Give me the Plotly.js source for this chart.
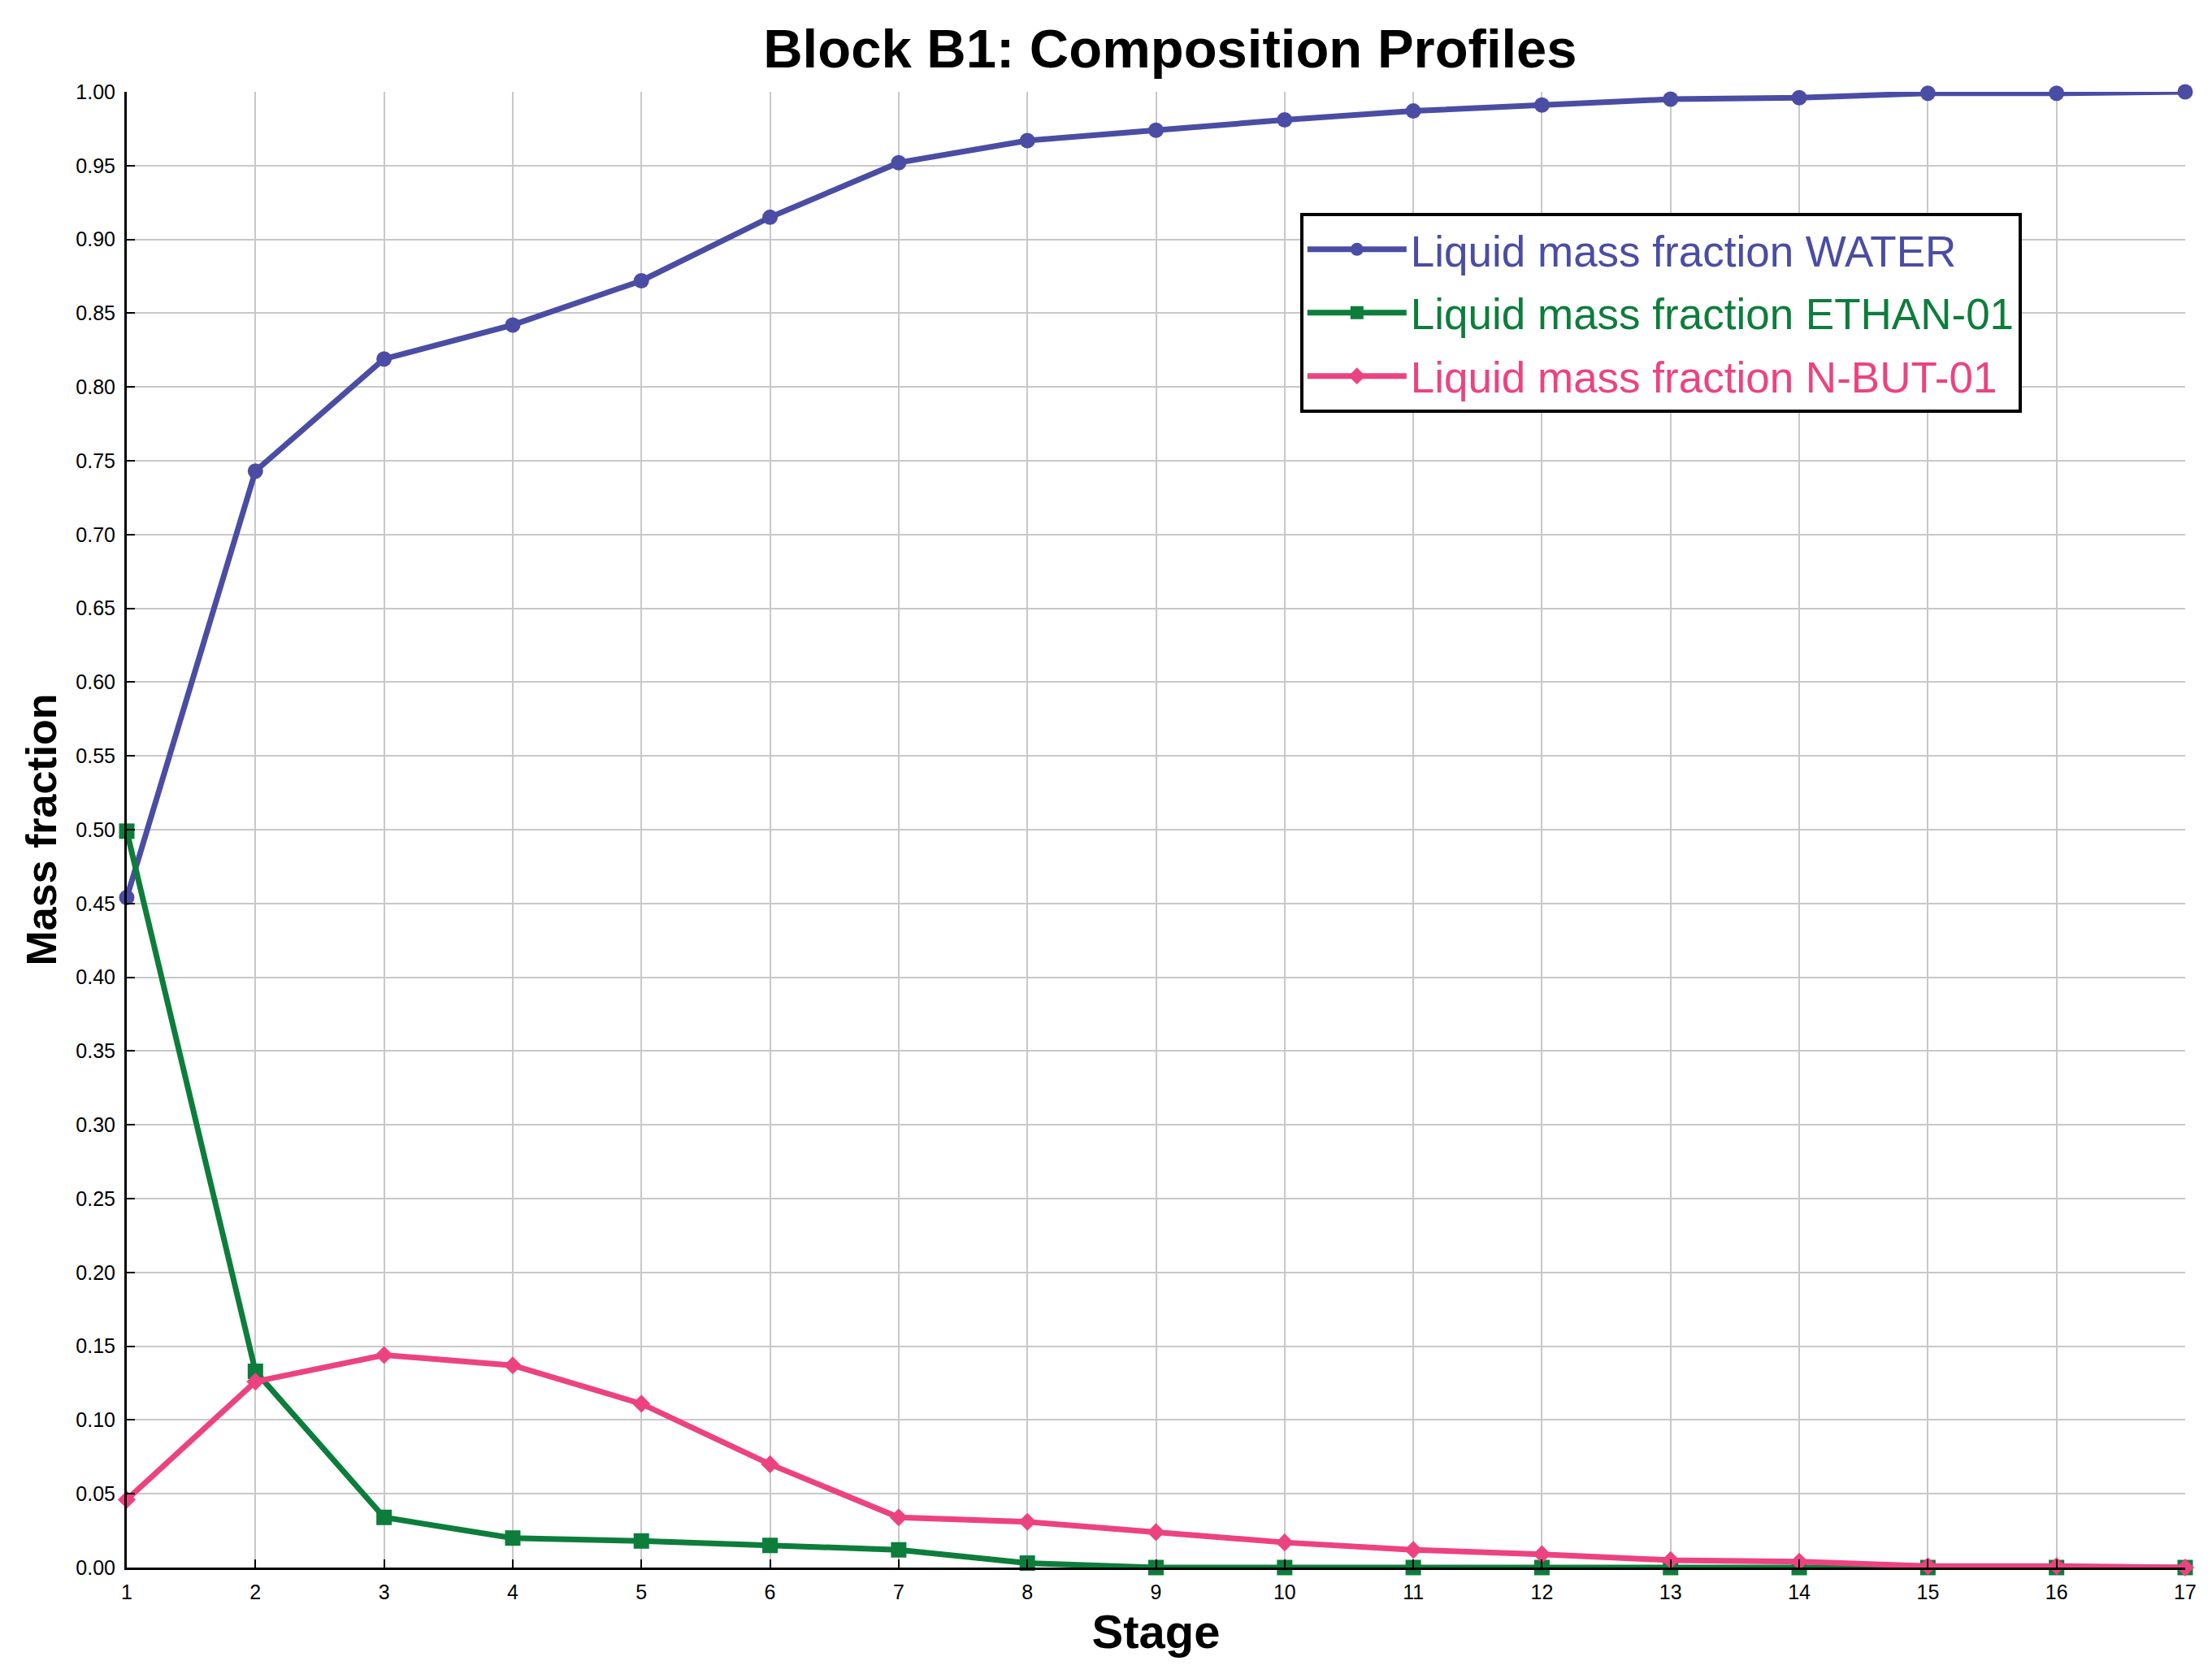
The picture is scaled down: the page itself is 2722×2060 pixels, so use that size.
<!DOCTYPE html>
<html>
<head>
<meta charset="utf-8">
<script src="https://cdn.plot.ly/plotly-3.0.1.min.js"></script>
<style>html,body{margin:0;padding:0;background:#fff;}#chart{width:2722px;height:2060px;}</style>
</head>
<body>
<div id="chart"></div>
<script>
const stages = [1,2,3,4,5,6,7,8,9,10,11,12,13,14,15,16,17];
const water  = [0.454,0.743,0.819,0.842,0.872,0.915,0.952,0.967,0.974,0.981,0.987,0.991,0.995,0.996,0.999,0.999,1.000];
const ethan  = [0.499,0.133,0.034,0.020,0.018,0.015,0.012,0.003,0.000,0.000,0.000,0.000,0.000,0.000,0.000,0.000,0.000];
const nbut   = [0.046,0.126,0.144,0.137,0.111,0.070,0.034,0.031,0.024,0.017,0.012,0.009,0.005,0.004,0.001,0.001,0.000];
const seriesNames = ['Liquid mass fraction WATER','Liquid mass fraction ETHAN-01','Liquid mass fraction N-BUT-01'];
const colors = ['#4a4da3','#0d7d3b','#ec4380'];
const symbols = ['circle','square','diamond'];
const sizes = [19,19,17];
const yTickVals = [0,0.05,0.1,0.15,0.2,0.25,0.3,0.35,0.4,0.45,0.5,0.55,0.6,0.65,0.7,0.75,0.8,0.85,0.9,0.95,1.0];

const ys = [water, ethan, nbut];
const traces = ys.map((y,i)=>({
  x: stages, y: y, type:'scatter', mode:'lines+markers',
  name: '<span style="color:'+colors[i]+'">'+seriesNames[i]+'</span>',
  legendgroup: 'g'+i,
  line:{color:colors[i], width:7},
  marker:{color:colors[i], symbol:symbols[i], size:sizes[i]},
  cliponaxis:false
}));

const layout = {
  width:2722, height:2060,
  paper_bgcolor:'#fff', plot_bgcolor:'#fff',
  margin:{l:156, r:33, t:113, b:131},
  font:{family:'Liberation Sans, Arial, sans-serif', color:'#000'},
  title:{text:'<b>Block B1: Composition Profiles</b>', x:0.529, xanchor:'center', y:0.971, yanchor:'middle', yref:'container',
    font:{family:'Liberation Sans, Arial, sans-serif', size:67, color:'#000'}},
  xaxis:{range:[1,17], tickvals:stages, ticks:'inside', ticklen:10, tickwidth:2, tickcolor:'#000',
    showline:true, linecolor:'#000', linewidth:3, showgrid:true, gridcolor:'#c8c8c8', gridwidth:2, zeroline:false,
    tickfont:{size:25, color:'#000'}, ticklabelstandoff:6,
    title:{text:'<b>Stage</b>', font:{size:58, color:'#000'}, standoff:16}},
  yaxis:{range:[0,1], tickvals:yTickVals, tickformat:'.2f', ticks:'inside', ticklen:10, tickwidth:2, tickcolor:'#000',
    showline:true, linecolor:'#000', linewidth:3, showgrid:true, gridcolor:'#c8c8c8', gridwidth:2, zeroline:false,
    tickfont:{size:25, color:'#000'}, ticklabelstandoff:6,
    title:{text:'<b>Mass fraction</b>', font:{size:52, color:'#000'}, standoff:8}},
  showlegend:true,
  legend:{x:0.570, y:0.918, xanchor:'left', yanchor:'top', bgcolor:'#fff', bordercolor:'#000', borderwidth:4,
    font:{size:53}, itemwidth:122, tracegroupgap:6, itemsizing:'trace'}
};
Plotly.newPlot('chart', traces, layout, {displayModeBar:false, staticPlot:true});
</script>
</body>
</html>
